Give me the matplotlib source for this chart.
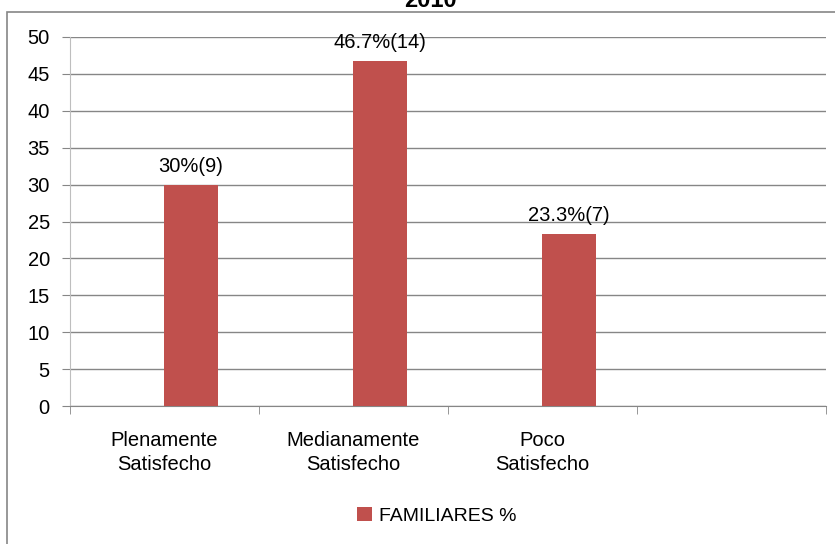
import matplotlib
matplotlib.use('Agg')
import matplotlib.pyplot as plt
from matplotlib.patches import Rectangle

plt.rcParams['font.family'] = ['Liberation Sans', 'DejaVu Sans']

categorias = ['Plenamente\nSatisfecho', 'Medianamente\nSatisfecho', 'Poco\nSatisfecho', '']
porcentajes = [30, 46.7, 23.3]
frecuencias = [9, 14, 7]
etiquetas = ['30%(9)', '46.7%(14)', '23.3%(7)']
serie = 'FAMILIARES %'

rojo = '#C0504D'
gris = '#868686'

fig = plt.figure(figsize=(8.35, 5.44), dpi=100)
ax = fig.add_axes([70 / 835, 1 - 406 / 544, 756 / 835, 369 / 544])

# marco del grafico
fig.patches.append(Rectangle((7 / 835, -0.1), 1.0, 1 - 12 / 544 + 0.1,
                             transform=fig.transFigure, fill=False,
                             edgecolor=gris, linewidth=1.2))
fig.text(0.515, 1 - 7 / 544, '2010', ha='center', va='baseline',
         fontsize=17, fontweight='bold')

pos = list(range(len(porcentajes)))
barras = ax.bar([p + 0.14 for p in pos], porcentajes, width=0.285,
                color=rojo, label=serie, zorder=3)
for b, txt in zip(barras, etiquetas):
    ax.text(b.get_x() + b.get_width() / 2, b.get_height() + 1.2, txt,
            ha='center', va='bottom', fontsize=14.5)

ax.set_xlim(-0.5, 3.5)
ax.set_ylim(0, 50)
ax.set_yticks(range(0, 51, 5))
ax.set_xticks(range(len(categorias)))
ax.set_xticklabels(categorias, fontsize=14.5, linespacing=1.35)
ax.set_xticks([-0.5, 0.5, 1.5, 2.5, 3.5], minor=True)
ax.tick_params(axis='x', which='major', length=0, pad=18)
ax.tick_params(axis='x', which='minor', length=6, color=gris, direction='out')
ax.tick_params(axis='y', length=6, color=gris, labelsize=14.5, pad=8.5)

ax.grid(axis='y', color=gris, linewidth=1.0, zorder=0)
for lado in ['top', 'right']:
    ax.spines[lado].set_visible(False)
ax.spines['left'].set_color('#BEBEBE')
ax.spines['bottom'].set_color(gris)

fig.legend(handles=[barras], labels=[serie], loc='center',
           bbox_to_anchor=(437 / 835, 1 - 516 / 544), frameon=False,
           fontsize=14, handlelength=0.75, handleheight=0.75, handletextpad=0.4)

fig.savefig('out.png', dpi=100)
